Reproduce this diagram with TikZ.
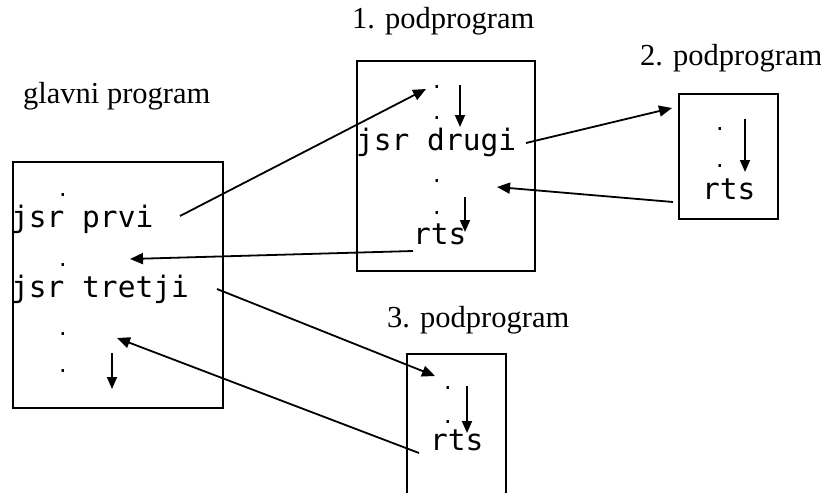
\documentclass[tikz,border=0pt]{standalone}
\usepackage{fontspec}
\setmainfont{Liberation Serif}
\newfontfamily\codefont{DejaVu Sans Mono}
\usetikzlibrary{positioning,arrows.meta}

\begin{document}
\begin{tikzpicture}[x=1pt,y=-1pt,every node/.style={inner sep=0pt},
    progbox/.style={draw, line width=1.9pt},
    title/.style={font=\fontsize{30.5}{30.5}\selectfont, anchor=base west},
    code/.style={font=\codefont\fontsize{29.5}{29.5}\selectfont, anchor=base west},
    gap/.style={font=\codefont\fontsize{20}{20}\selectfont, anchor=base},
    flow/.style={line width=1.8pt, -{Triangle[length=12pt,width=10pt]}},
    jump/.style={line width=1.8pt, -{Triangle[length=13pt,width=11pt]}}]
  \useasboundingbox (0,0) rectangle (821,493);

  \node[title] (glavniT) at (23,103) {glavni program};
  \node[title] (prviT)   at (352,28) {1. podprogram};
  \node[title] (drugiT)  at (640,65) {2. podprogram};
  \node[title] (tretjiT) at (387,327) {3. podprogram};

  \node[progbox, minimum width=210, minimum height=246] (glavni) at (118,285) {};
  \node[progbox, minimum width=178, minimum height=210] (prvi)   at (446,166) {};
  \node[progbox, minimum width=99,  minimum height=125] (drugi)  at (728.5,156.5) {};
  \node[minimum width=99, minimum height=139] (tretji) at (456.5,423.5) {};
  \draw[line width=1.9pt] (tretji.south west) |- (tretji.north east) -- (tretji.south east);

  \node[gap] (g1) at (63,196) {.};
  \node[code] (callPrvi) at (11,227) {jsr prvi};
  \node[gap] (g2) at (63,266) {.};
  \node[code] (callTretji) at (11,297) {jsr tretji};
  \node[gap] (g3) at (63,335) {.};
  \node[gap] (g4) at (63,372) {.};

  \node[gap] (p1) at (437,88) {.};
  \node[gap] (p2) at (437,119) {.};
  \node[code] (callDrugi) at (356,150) {jsr drugi};
  \node[gap] (p3) at (437,182) {.};
  \node[gap] (p4) at (437,214) {.};
  \node[code] (rtsPrvi) at (413,244) {rts};

  \node[gap] (d1) at (720,130) {.};
  \node[gap] (d2) at (720,167) {.};
  \node[code] (rtsDrugi) at (702,199) {rts};

  \node[gap] (t1) at (448,389) {.};
  \node[gap] (t2) at (448,423) {.};
  \node[code] (rtsTretji) at (430,450) {rts};

  \coordinate (gRunA) at (112,353); \coordinate (gRunB) at (112,389);
  \coordinate (pRunA) at (460,85);  \coordinate (pRunB) at (460,127);
  \coordinate (pRunC) at (465,197); \coordinate (pRunD) at (465,232);
  \coordinate (dRunA) at (745,119); \coordinate (dRunB) at (745,172);
  \coordinate (tRunA) at (467,386); \coordinate (tRunB) at (467,433);
  \draw[flow] (gRunA) -- (gRunB);
  \draw[flow] (pRunA) -- (pRunB);
  \draw[flow] (pRunC) -- (pRunD);
  \draw[flow] (dRunA) -- (dRunB);
  \draw[flow] (tRunA) -- (tRunB);

  \coordinate (prviOut)   at (180,216); \coordinate (prviIn)   at (426,89);
  \coordinate (drugiOut)  at (526,143); \coordinate (drugiIn)  at (672,108);
  \coordinate (drugiRet)  at (673,202); \coordinate (drugiBack) at (497,187);
  \coordinate (prviRet)   at (413,251); \coordinate (prviBack)  at (130,259);
  \coordinate (tretjiOut) at (217,289); \coordinate (tretjiIn)  at (435,376);
  \coordinate (tretjiRet) at (419,453); \coordinate (tretjiBack) at (117,338);
  \draw[jump] (prviOut) -- (prviIn);
  \draw[jump] (drugiOut) -- (drugiIn);
  \draw[jump] (drugiRet) -- (drugiBack);
  \draw[jump] (prviRet) -- (prviBack);
  \draw[jump] (tretjiOut) -- (tretjiIn);
  \draw[jump] (tretjiRet) -- (tretjiBack);
\end{tikzpicture}
\end{document}
